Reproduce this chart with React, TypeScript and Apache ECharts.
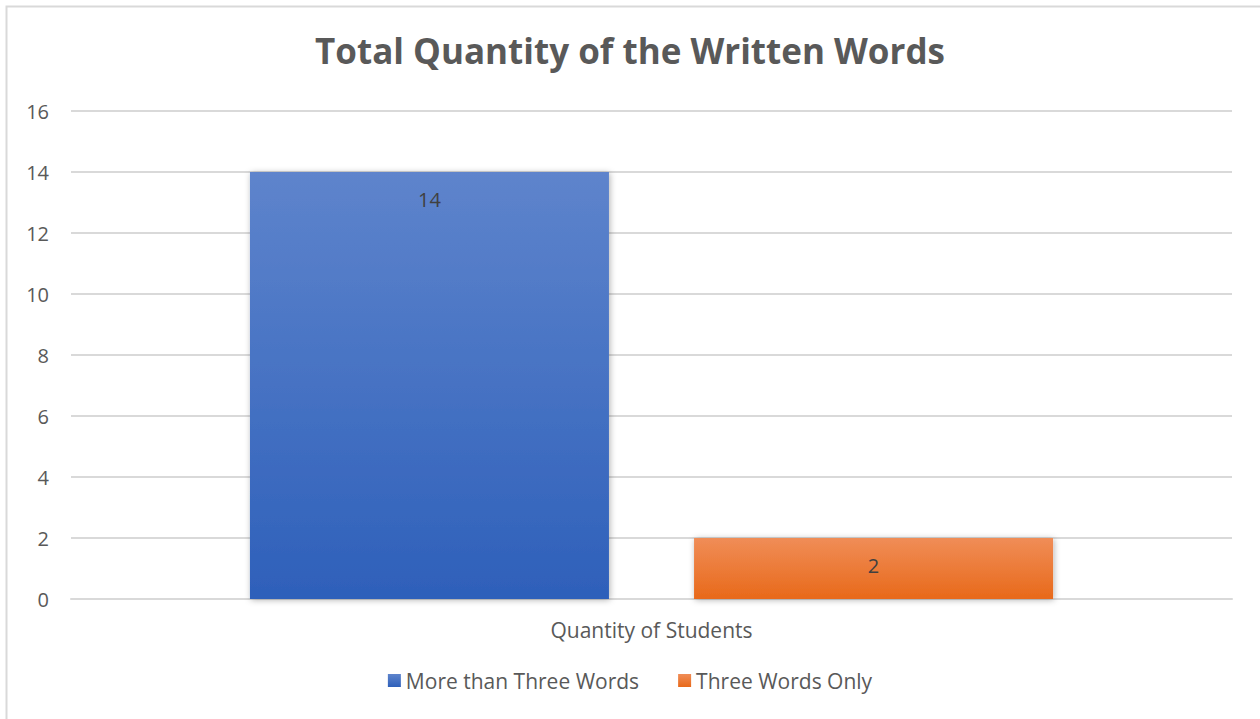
import React, { useEffect, useRef } from "react";
import * as echarts from "echarts";

const categories = ["Quantity of Students"];
const seriesNames = ["More than Three Words", "Three Words Only"];
const moreThanThree = [14];
const threeOnly = [2];
const yTicks = { min: 0, max: 16, interval: 2 };

const FONT = "'Open Sans', 'Noto Sans', sans-serif";

function grad(top: string, bottom: string) {
  return new echarts.graphic.LinearGradient(0, 0, 0, 1, [
    { offset: 0, color: top },
    { offset: 1, color: bottom },
  ]);
}

export default function App() {
  const ref = useRef<HTMLDivElement>(null);

  useEffect(() => {
    document.body.style.margin = "0";
    if (!ref.current) return;
    const chart = echarts.init(ref.current, undefined, { renderer: "svg" });
    const label = {
      show: true,
      position: "insideTop",
      distance: 17,
      color: "#404040",
      fontSize: 20,
      fontFamily: FONT,
    };
    const shadow = {
      shadowColor: "rgba(0,0,0,0.3)",
      shadowBlur: 6,
      shadowOffsetX: 1,
      shadowOffsetY: 1,
    };
    chart.setOption({
      animation: false,
      backgroundColor: "#ffffff",
      title: {
        text: "Total Quantity of the Written Words",
        left: "center",
        top: 28,
        textStyle: {
          fontFamily: FONT,
          fontSize: 35,
          fontWeight: "bold",
          color: "#595959",
        },
      },
      graphic: [
        {
          type: "rect",
          shape: { x: 6.5, y: 6.5, width: 1300, height: 800 },
          style: { fill: "none", stroke: "#D9D9D9", lineWidth: 2 },
          silent: true,
          z: -1,
        },
      ],
      grid: { left: 71, right: 28, top: 111, bottom: 120 },
      legend: {
        bottom: 23,
        left: "center",
        itemWidth: 13,
        itemHeight: 13,
        itemGap: 39,
        icon: "rect",
        textStyle: { fontFamily: FONT, fontSize: 21, color: "#595959" },
        data: seriesNames,
      },
      xAxis: {
        type: "category",
        data: categories,
        axisLine: { lineStyle: { color: "#D9D9D9", width: 2 } },
        axisTick: { show: false },
        axisLabel: {
          margin: 20,
          fontFamily: FONT,
          fontSize: 21,
          color: "#595959",
        },
      },
      yAxis: {
        type: "value",
        min: yTicks.min,
        max: yTicks.max,
        interval: yTicks.interval,
        axisLine: { show: false },
        axisTick: { show: false },
        splitLine: { lineStyle: { color: "#D9D9D9", width: 2 } },
        axisLabel: {
          margin: 22,
          fontFamily: FONT,
          fontSize: 20,
          color: "#595959",
        },
      },
      series: [
        {
          name: seriesNames[0],
          type: "bar",
          data: moreThanThree,
          barWidth: 359,
          barGap: "23.7%",
          itemStyle: { color: grad("#5E84CC", "#2E60BA"), ...shadow },
          label,
        },
        {
          name: seriesNames[1],
          type: "bar",
          data: threeOnly,
          barWidth: 359,
          itemStyle: { color: grad("#F08D57", "#E8691A"), ...shadow },
          label,
        },
      ],
    });
    return () => chart.dispose();
  }, []);

  return <div ref={ref} style={{ width: 1260, height: 719 }} />;
}
